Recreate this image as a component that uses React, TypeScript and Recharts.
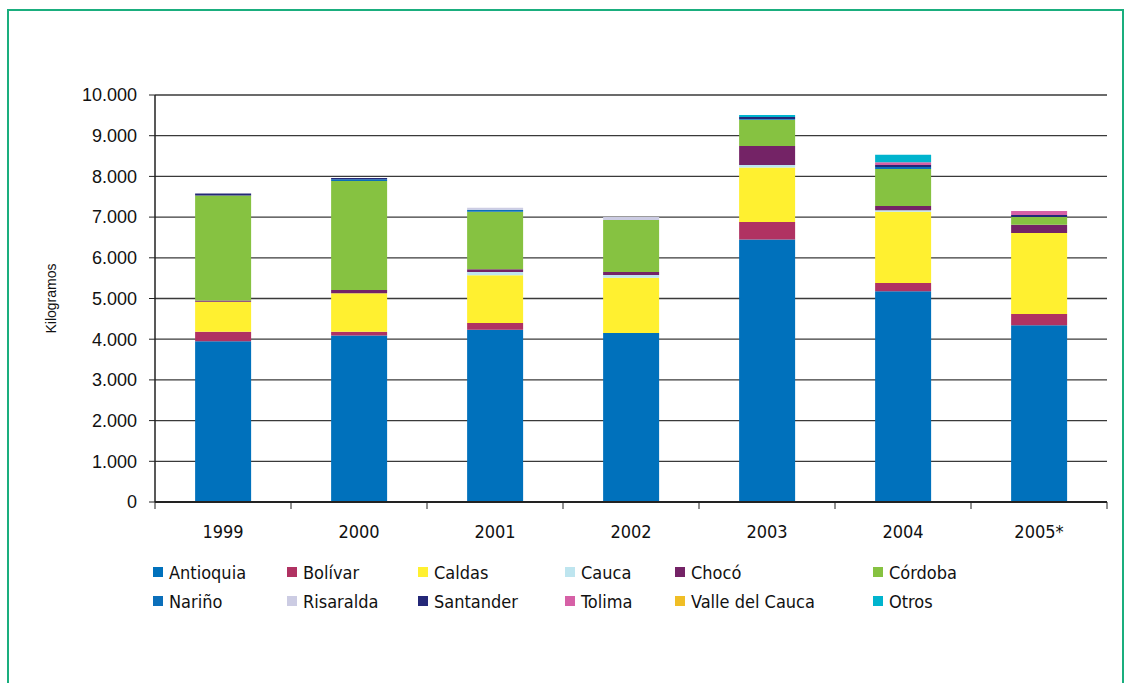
import { BarChart, Bar, XAxis, YAxis, CartesianGrid } from 'recharts';

const years = ['1999', '2000', '2001', '2002', '2003', '2004', '2005*'];

const antioquia = [3950, 4090, 4230, 4150, 6450, 5180, 4340];
const bolivar = [230, 90, 170, 0, 430, 200, 280];
const caldas = [740, 950, 1170, 1360, 1340, 1750, 1990];
const cauca = [0, 0, 80, 70, 60, 40, 0];
const choco = [30, 80, 70, 70, 470, 100, 200];
const cordoba = [2580, 2680, 1410, 1280, 640, 910, 190];
const narino = [0, 40, 50, 0, 20, 50, 0];
const risaralda = [0, 0, 50, 70, 0, 0, 0];
const santander = [50, 30, 0, 0, 50, 50, 50];
const tolima = [0, 0, 0, 0, 0, 70, 100];
const valleDelCauca = [0, 0, 0, 0, 0, 0, 0];
const otros = [0, 0, 0, 0, 50, 180, 0];

const yTicks = [0, 1000, 2000, 3000, 4000, 5000, 6000, 7000, 8000, 9000, 10000];

const SERIES = [
  { key: 'antioquia', name: 'Antioquia', values: antioquia, color: '#0071bc' },
  { key: 'bolivar', name: 'Bolívar', values: bolivar, color: '#b03262' },
  { key: 'caldas', name: 'Caldas', values: caldas, color: '#fff030' },
  { key: 'cauca', name: 'Cauca', values: cauca, color: '#bee5ef' },
  { key: 'choco', name: 'Chocó', values: choco, color: '#742366' },
  { key: 'cordoba', name: 'Córdoba', values: cordoba, color: '#86c241' },
  { key: 'narino', name: 'Nariño', values: narino, color: '#0b6fba' },
  { key: 'risaralda', name: 'Risaralda', values: risaralda, color: '#cccce3' },
  { key: 'santander', name: 'Santander', values: santander, color: '#242878' },
  { key: 'tolima', name: 'Tolima', values: tolima, color: '#d660a6' },
  { key: 'valle', name: 'Valle del Cauca', values: valleDelCauca, color: '#f0be25' },
  { key: 'otros', name: 'Otros', values: otros, color: '#00b4ce' },
];

const chartData = years.map((year, i) => {
  const row: Record<string, string | number> = { year };
  SERIES.forEach((s) => {
    row[s.key] = s.values[i];
  });
  return row;
});

// plot geometry
const WIDTH = 1131;
const HEIGHT = 683;
const PLOT_LEFT = 155;
const PLOT_RIGHT = 1107;
const PLOT_TOP = 95;
const PLOT_BOTTOM = 502;
const Y_AXIS_W = 80;
const BAND = (PLOT_RIGHT - PLOT_LEFT) / years.length;

const NARROW = '"Liberation Sans Narrow", "DejaVu Sans Condensed", Arial, sans-serif';
const REGULAR = '"Liberation Sans", Arial, sans-serif';

const formatThousands = (v: number) =>
  String(v).replace(/\B(?=(\d{3})+(?!\d))/g, '.');

const YearTick = (props: any) => {
  const { x, y, payload, index } = props;
  const half = BAND / 2;
  return (
    <g>
      <line x1={x - half} x2={x - half} y1={y} y2={y + 7} stroke="#222" strokeWidth={1} />
      {index === years.length - 1 && (
        <line x1={x + half} x2={x + half} y1={y} y2={y + 7} stroke="#222" strokeWidth={1} />
      )}
      <text
        x={x}
        y={y + 36}
        textAnchor="middle"
        fill="#111"
        fontSize={18}
        fontFamily={NARROW}
      >
        {payload.value}
      </text>
    </g>
  );
};

// legend columns (left edge of the swatch) and rows
const legendCols = [153, 287, 418, 565, 675, 873];
const legendRows = [572, 601];

const LegendBlock = () => (
  <div style={{ position: 'absolute', left: 0, top: 0 }}>
    {SERIES.map((s, i) => {
      const col = i % legendCols.length;
      const row = Math.floor(i / legendCols.length);
      return (
        <div
          key={s.key}
          style={{
            position: 'absolute',
            left: legendCols[col],
            top: legendRows[row] - 11,
            height: 22,
            display: 'flex',
            alignItems: 'center',
            whiteSpace: 'nowrap',
            fontFamily: NARROW,
            fontSize: 18,
            color: '#111',
          }}
        >
          <span
            style={{
              display: 'inline-block',
              width: 10,
              height: 10,
              background: s.color,
              marginRight: 6,
            }}
          />
          {s.name}
        </div>
      );
    })}
  </div>
);

export default function App() {
  return (
    <div
      style={{
        position: 'absolute',
        left: 0,
        top: 0,
        width: WIDTH,
        height: HEIGHT,
        background: '#fff',
        overflow: 'hidden',
      }}
    >
      <div
        style={{
          position: 'absolute',
          left: 7,
          top: 9,
          width: 1113,
          height: 700,
          borderTop: '2px solid #1aae7e',
          borderLeft: '2px solid #1aae7e',
          borderRight: '2px solid #1aae7e',
        }}
      />
      <div style={{ position: 'absolute', left: 0, top: 0 }}>
        <BarChart
          width={WIDTH}
          height={HEIGHT}
          data={chartData}
          margin={{
            top: PLOT_TOP,
            right: WIDTH - PLOT_RIGHT,
            left: PLOT_LEFT - Y_AXIS_W,
            bottom: HEIGHT - PLOT_BOTTOM - 40,
          }}
          barCategoryGap="29.5%"
        >
          <CartesianGrid vertical={false} stroke="#3a3a3a" strokeWidth={1.3} />
          <XAxis
            dataKey="year"
            height={40}
            tickLine={false}
            tickSize={0}
            tickMargin={0}
            interval={0}
            axisLine={{ stroke: '#222', strokeWidth: 2 }}
            tick={<YearTick />}
          />
          <YAxis
            width={Y_AXIS_W}
            domain={[0, 10000]}
            ticks={yTicks}
            interval={0}
            tickFormatter={formatThousands}
            tickSize={6}
            tickMargin={12}
            tick={{ fill: '#111', fontSize: 18, fontFamily: REGULAR }}
            axisLine={{ stroke: '#222', strokeWidth: 1.5 }}
            tickLine={{ stroke: '#222' }}
            label={{
              value: 'Kilogramos',
              angle: -90,
              position: 'insideLeft',
              offset: -24,
              style: { textAnchor: 'middle', fill: '#111', fontSize: 14, fontFamily: REGULAR },
            }}
          />
          {SERIES.map((s) => (
            <Bar
              key={s.key}
              dataKey={s.key}
              name={s.name}
              stackId="a"
              fill={s.color}
              isAnimationActive={false}
            />
          ))}
        </BarChart>
      </div>
      <LegendBlock />
    </div>
  );
}
